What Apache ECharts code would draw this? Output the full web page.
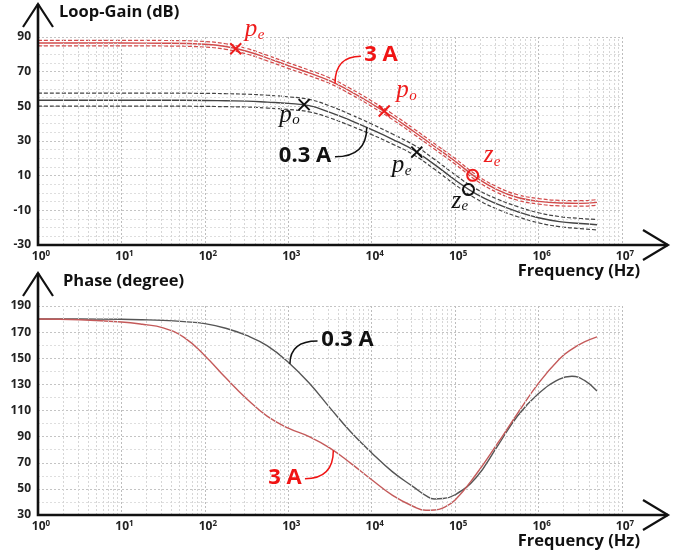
<!DOCTYPE html>
<html><head><meta charset="utf-8">
<script src="https://cdn.jsdelivr.net/npm/echarts@6/dist/echarts.min.js"></script>
<style>html,body{margin:0;padding:0;background:#fff}#c{width:690px;height:553px}</style>
</head><body><div id="c"></div>
<script>
// ---------------- DATA ----------------
// frequency exponents: f = 10^x Hz
const gainLogF = [0,0.5,1,1.5,2,2.25,2.5,2.75,3,3.25,3.5,3.75,4,4.25,4.5,4.75,5,5.25,5.5,5.75,6,6.25,6.5,6.7];
const gain03Solid = [53.5,53.5,53.5,53.5,53.4,53.2,53.0,52.4,51.7,50.4,46.5,41.8,36.6,31.0,24.8,16.5,7.5,-0.5,-6.3,-10.8,-14.3,-16.5,-17.6,-18.3];
const gain03Upper = [57.6,57.6,57.6,57.6,57.5,57.3,57.0,56.4,55.5,54.0,50.2,45.2,39.8,34.0,27.8,19.5,10.5,2.4,-3.4,-7.9,-11.4,-13.6,-14.7,-15.3];
const gain03Lower = [50.1,50.1,50.1,50.1,50.0,49.8,49.6,49.0,48.2,46.8,43.3,38.7,33.7,28.2,22.1,13.8,4.8,-3.3,-9.2,-13.7,-17.2,-19.4,-20.5,-21.3];
const gain3Solid = [86.5,86.5,86.5,86.4,85.8,84.5,81.8,77.8,73.5,69.3,64.7,58.5,51.5,44.0,35.6,27.0,18.3,9.0,2.0,-2.6,-4.8,-5.8,-6.0,-5.4];
const gain3Upper = [88.1,88.1,88.1,88.0,87.4,86.1,83.4,79.4,75.1,70.9,66.3,60.1,53.1,45.6,37.2,28.6,19.9,10.6,3.6,-1.0,-3.2,-4.2,-4.4,-3.8];
const gain3Lower = [84.9,84.9,84.9,84.8,84.2,82.9,80.2,76.2,71.9,67.7,63.1,56.9,49.9,42.4,34.0,25.4,16.7,7.4,0.4,-4.2,-6.4,-7.4,-7.6,-7.0];

const phaseLogF = [0,0.5,1,1.25,1.5,1.75,2,2.25,2.5,2.75,3,3.25,3.5,3.75,4,4.25,4.5,4.65,4.75,4.85,5,5.25,5.5,5.75,6,6.25,6.4,6.55,6.7];
const phase03 = [180,180,179.8,179.5,179,178,176.5,173,167.5,159.5,147,131,112,93.5,77.5,63,51.5,44.8,42.3,42.6,45.5,58.5,82,106,123,134,136.2,133,125];
const phase3  = [180,179.5,177.8,176,173.3,166,152,135,119,105.5,96.5,90,81.2,69.5,57,45,36.5,33.6,33.8,35.3,41.5,61,84,108,131,149.5,157,162.5,166.4];

// markers on the gain curves: [exponent, dB]
const markers03Cross = [[3.19, 51.0], [4.54, 23.6]];   // p_o, p_e
const markers03Circle = [[5.16, 2.0]];                 // z_e
const markers3Cross = [[2.37, 83.2], [4.15, 47.3]];    // p_e, p_o
const markers3Circle = [[5.21, 10.2]];                 // z_e

const gainTicks = {min: -30, max: 90, step: 20};
const phaseTicks = {min: 30, max: 190, step: 20};
const freqExpTicks = [0,1,2,3,4,5,6,7];

// ---------------- CHART ----------------
const RED = '#d24b4b', RED_M = '#ee1c1c', BLK = '#444444', PH_RED = '#c45a5a', PH_BLK = '#555555';
const FONT = '"Open Sans", "Liberation Sans", sans-serif';
const SERIF = '"Liberation Serif", "DejaVu Serif", serif';
const toPts = (xs, ys) => xs.map((x, i) => [Math.pow(10, x), ys[i]]);

const minorFreqs = [];
freqExpTicks.slice(0, -1).forEach(d => { for (let k = 2; k <= 9; k++) minorFreqs.push({xAxis: k * Math.pow(10, d)}); });

function xAxis(gi) {
  return {
    type: 'log', gridIndex: gi, min: 1, max: 1e7, logBase: 10,
    axisLine: {show: false}, axisTick: {show: false},
    axisLabel: {
      margin: 5, padding: [0, 0, 0, 6],
      formatter: v => '{b|10}{s|' + Math.round(Math.log10(v)) + '}',
      rich: {
        b: {fontFamily: FONT, fontWeight: 'bold', fontSize: 12, color: '#222', lineHeight: 14},
        s: {fontFamily: FONT, fontWeight: 'bold', fontSize: 8, color: '#222', verticalAlign: 'top', lineHeight: 14, padding: [0, 0, 4, 0]}
      }
    },
    splitLine: {show: true, lineStyle: {color: '#bdbdbd', type: [2, 2], width: 1}}
  };
}
function yAxis(gi, t, minorN) {
  return {
    type: 'value', gridIndex: gi, min: t.min, max: t.max, interval: t.step,
    axisLine: {show: false}, axisTick: {show: false},
    axisLabel: {fontFamily: FONT, fontWeight: 'bold', fontSize: 12, color: '#222', margin: 7},
    splitLine: {lineStyle: {color: '#c4c4c4', type: [2, 2]}},
    minorTick: {show: false, splitNumber: minorN},
    minorSplitLine: {show: true, lineStyle: {color: '#dedede', type: [2, 2]}}
  };
}
function curve(gi, xs, ys, color, dashed, width) {
  return {
    type: 'line', xAxisIndex: gi, yAxisIndex: gi, data: toPts(xs, ys),
    showSymbol: false, smooth: 0.45, silent: true, z: 3,
    lineStyle: {color, width: width || 1.3, type: dashed ? [4, 2] : 'solid'}
  };
}
function minorGrid(gi) {
  return {
    type: 'line', xAxisIndex: gi, yAxisIndex: gi, data: [], z: 1, silent: true,
    markLine: {silent: true, symbol: 'none', label: {show: false}, animation: false,
      lineStyle: {color: '#d6d6d6', type: [2, 2], width: 1}, data: minorFreqs}
  };
}
const CROSS = 'path://M0,0L10,10M10,0L0,10';
function marks(list, symbol, color) {
  return {
    type: 'scatter', xAxisIndex: 0, yAxisIndex: 0, z: 5, silent: true,
    data: list.map(p => [Math.pow(10, p[0]), p[1]]),
    symbol, symbolSize: 11,
    itemStyle: {color: 'rgba(0,0,0,0)', borderColor: color, borderWidth: 2, opacity: 1}
  };
}

const chart = echarts.init(document.getElementById('c'), null, {renderer: 'canvas'});
chart.setOption({
  animation: false,
  backgroundColor: '#fff',
  grid: [
    {left: 38, top: 37, width: 584, height: 208},
    {left: 38, top: 306, width: 584, height: 209}
  ],
  xAxis: [xAxis(0), xAxis(1)],
  yAxis: [yAxis(0, gainTicks, 4), yAxis(1, phaseTicks, 2)],
  series: [
    minorGrid(0), minorGrid(1),
    curve(0, gainLogF, gain03Upper, BLK, true, 1.2),
    curve(0, gainLogF, gain03Lower, BLK, true, 1.2),
    curve(0, gainLogF, gain03Solid, BLK, false, 1.4),
    curve(0, gainLogF, gain3Upper, RED, true, 1.2),
    curve(0, gainLogF, gain3Lower, RED, true, 1.2),
    curve(0, gainLogF, gain3Solid, RED, false, 1.4),
    curve(1, phaseLogF, phase03, PH_BLK, false, 1.4),
    curve(1, phaseLogF, phase3, PH_RED, false, 1.4),
    marks(markers03Cross, CROSS, '#111'),
    marks(markers03Circle, 'circle', '#111'),
    marks(markers3Cross, CROSS, RED_M),
    marks(markers3Circle, 'circle', RED_M)
  ]
});

// ---------------- decorations (axes with arrows, titles, annotations) ----------------
const px = (gi, e, v) => chart.convertToPixel({gridIndex: gi}, [Math.pow(10, e), v]);
const interp = (xs, ys, e) => { for (let i = 1; i < xs.length; i++) if (e <= xs[i]) { const t = (e - xs[i-1]) / (xs[i] - xs[i-1]); return ys[i-1] + t * (ys[i] - ys[i-1]); } return ys[ys.length - 1]; };
const G = [];
const AX = {stroke: '#111', lineWidth: 2.6, lineCap: 'butt', lineJoin: 'miter'};
[[0, gainTicks], [1, phaseTicks]].forEach(([gi, t]) => {
  const o = px(gi, 0, t.min), top = px(gi, 0, t.max);
  const xr = px(gi, 7, t.min)[0];
  const xEnd = xr + 46, yEnd = top[1] - 33;
  G.push({type: 'polyline', shape: {points: [[o[0], yEnd], [o[0], o[1]], [xEnd, o[1]]]}, style: AX, z: 10});
  G.push({type: 'polyline', shape: {points: [[o[0] - 15, yEnd + 23], [o[0], yEnd], [o[0] + 15, yEnd + 23]]}, style: {...AX, lineWidth: 2.2, fill: null}, z: 10});
  G.push({type: 'polyline', shape: {points: [[xEnd - 25, o[1] - 15], [xEnd, o[1]], [xEnd - 25, o[1] + 15]]}, style: {...AX, lineWidth: 2.2, fill: null}, z: 10});
  G.push({type: 'text', style: {text: 'Frequency (Hz)', x: xr + 18, y: o[1] + 26, align: 'right', verticalAlign: 'middle', font: 'bold 16.5px ' + FONT, fill: '#111'}, z: 10});
  G.push({type: 'text', style: {text: gi === 0 ? 'Loop-Gain (dB)' : 'Phase (degree)', x: o[0] + (gi === 0 ? 21 : 25), y: yEnd + 8, align: 'left', verticalAlign: 'middle', font: 'bold 16.5px ' + FONT, fill: '#111'}, z: 10});
});

// callouts: text centre in data coords, tip on a curve
function callout(gi, text, color, tc, tipE, tipV, side) {
  const c = px(gi, tc[0], tc[1]);
  const tip = px(gi, tipE, tipV);
  const w = text.length > 3 ? 28 : 18;
  const s = [c[0] + side * (w + 2), c[1] + 1];
  G.push({type: 'text', style: {text, x: c[0], y: c[1], align: 'center', verticalAlign: 'middle', font: 'bold 22px ' + FONT, fill: color}, z: 10});
  G.push({type: 'bezierCurve', shape: {x1: s[0], y1: s[1], cpx1: tip[0], cpy1: s[1], x2: tip[0], y2: tip[1]}, style: {stroke: color, lineWidth: 1.5, fill: null}, z: 10});
}
callout(0, '3 A', '#f01414', [4.11, 79.5], 3.56, interp(gainLogF, gain3Solid, 3.56), -1);
callout(0, '0.3 A', '#111', [3.20, 21.5], 3.94, interp(gainLogF, gain03Solid, 3.94), 1);
callout(1, '0.3 A', '#111', [3.71, 164.0], 3.02, interp(phaseLogF, phase03, 3.02), -1);
callout(1, '3 A', '#f01414', [2.96, 58.5], 3.54, interp(phaseLogF, phase3, 3.54), 1);

// marker labels: letter + subscript, offsets from the marker pixel (origin x, baseline y)
function mlabel(m, main, sub, color, o1, o2) {
  const p = px(0, m[0], m[1]);
  const F = 25, f = 15;
  G.push({type: 'text', style: {text: main, x: p[0] + o1[0], y: p[1] + o1[1] - 0.34 * F, verticalAlign: 'middle', font: 'italic ' + F + 'px ' + SERIF, fill: color}, z: 10});
  G.push({type: 'text', style: {text: sub, x: p[0] + o2[0], y: p[1] + o2[1] - 0.34 * f, verticalAlign: 'middle', font: 'italic ' + f + 'px ' + SERIF, fill: color}, z: 10});
}
mlabel(markers3Cross[0], 'p', 'e', RED_M, [9, -11], [22, -9]);
mlabel(markers3Cross[1], 'p', 'o', RED_M, [12, -12], [25, -10]);
mlabel(markers3Circle[0], 'z', 'e', RED_M, [11, -11], [21, -8]);
mlabel(markers03Cross[0], 'p', 'o', '#111', [-25, 19], [-12, 21]);
mlabel(markers03Cross[1], 'p', 'e', '#111', [-25, 22], [-12, 24]);
mlabel(markers03Circle[0], 'z', 'e', '#111', [-17, 20], [-7, 22]);

chart.setOption({graphic: G});
</script></body></html>
